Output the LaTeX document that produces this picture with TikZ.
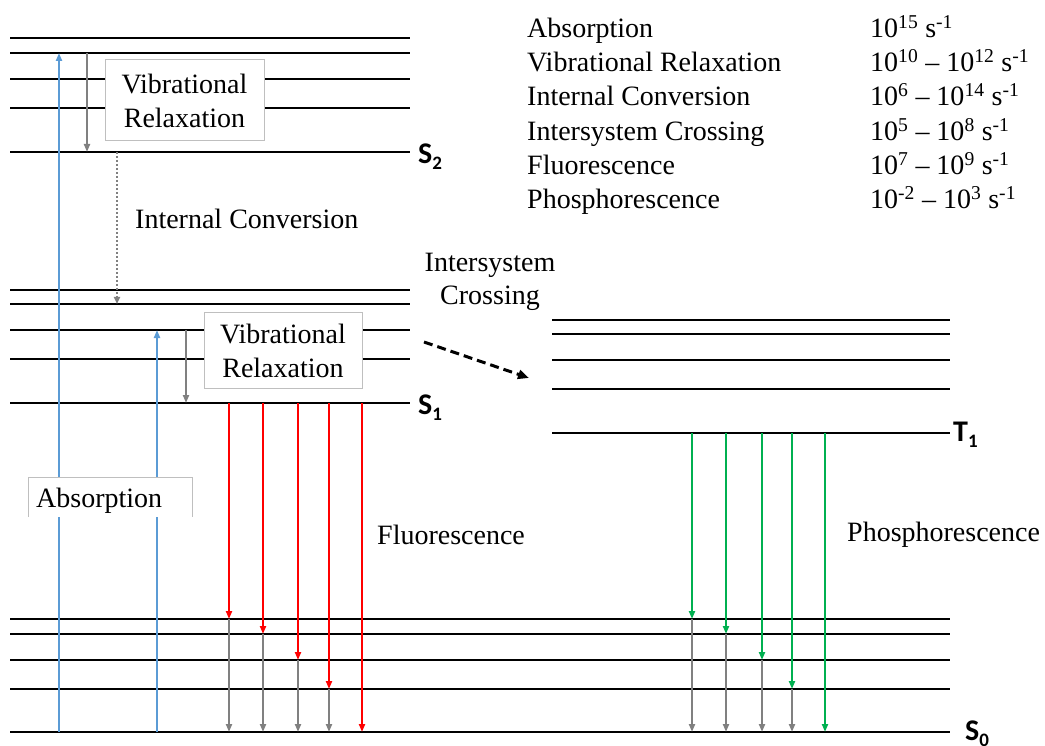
\documentclass[tikz,border=0pt]{standalone}
\usepackage{fontspec}
\setmainfont{Liberation Serif}
\newfontfamily\statefont{Carlito}
\usetikzlibrary{arrows.meta}
\definecolor{absblue}{HTML}{5B9BD5}
\definecolor{fluored}{HTML}{FF0000}
\definecolor{phosgreen}{HTML}{00B050}
\definecolor{relaxgray}{HTML}{808080}
\definecolor{boxgray}{HTML}{BFBFBF}
\newcommand{\statelabel}[2]{{\statefont\bfseries\fontsize{30}{30}\selectfont #1}\raisebox{-6pt}{\statefont\bfseries\fontsize{19}{19}\selectfont #2}}
\begin{document}
\begin{tikzpicture}[x=1pt,y=-1pt,
  level/.style={line width=1.5pt},
  ground/.style={line width=2.5pt},
  tip/.style={-{Triangle[length=8pt,width=6pt]}},
  absorb/.style={tip,draw=absblue,line width=2pt},
  relax/.style={tip,draw=relaxgray,line width=2.5pt},
  fluor/.style={tip,draw=fluored,line width=2pt},
  phos/.style={tip,draw=phosgreen,line width=2pt},
  ic/.style={-{Triangle[length=7pt,width=6pt]},draw=relaxgray,line width=2pt,dotted},
  isc/.style={-{Triangle[length=11pt,width=9pt]},line width=3pt,dash pattern=on 9pt off 5pt},
  txt/.style={font=\fontsize{28}{34}\selectfont,inner sep=0pt},
  vrbox/.style={draw=boxgray,line width=1pt,fill=white,align=center,
    font=\fontsize{28}{34}\selectfont,inner sep=0pt},
  state/.style={inner sep=0pt,anchor=base west}
]
\useasboundingbox (0,0) rectangle (1045,746);

% energy levels: S2
\foreach \y in {38,53,79,108} \draw[level] (10,\y) -- (410,\y);
\draw[ground] (10,152) -- (410,152);
% S1
\foreach \y in {290,304,330,359} \draw[level] (10,\y) -- (410,\y);
\draw[ground] (10,403) -- (410,403);
% T1
\foreach \y in {320,334,360,389} \draw[level] (552,\y) -- (950,\y);
\draw[ground] (552,433) -- (950,433);
% S0
\foreach \y in {619,634,660,689} \draw[level] (10,\y) -- (950,\y);
\draw[ground] (10,732) -- (950,732);

% state labels
\node[state] (s2) at (418,164) {\statelabel{S}{2}};
\node[state] (s1) at (418,414) {\statelabel{S}{1}};
\node[state] (t1) at (953,441) {\statelabel{T}{1}};
\node[state] (s0) at (965,740) {\statelabel{S}{0}};

% absorption
\coordinate (a1) at (59,732);  \coordinate (a1e) at (59,53);
\coordinate (a2) at (157,732); \coordinate (a2e) at (157,330);
\draw[absorb] (a1) -- (a1e);
\draw[absorb] (a2) -- (a2e);

% vibrational relaxation in S2 and S1
\coordinate (v1) at (87,53);   \coordinate (v1e) at (87,152);
\coordinate (v2) at (186,330); \coordinate (v2e) at (186,403);
\draw[relax] (v1) -- (v1e);
\draw[relax] (v2) -- (v2e);

% internal conversion
\coordinate (ic1) at (117,152); \coordinate (ic1e) at (117,304);
\draw[ic] (ic1) -- (ic1e);

% intersystem crossing
\coordinate (isc1) at (424,342); \coordinate (isc1e) at (529,378);
\draw[isc] (isc1) -- (isc1e);

% fluorescence and relaxation to S0
\foreach \x/\y [count=\i] in {229/619,263/634,298/660,329/689}{
  \coordinate (f\i) at (\x,403);
  \coordinate (fm\i) at (\x,\y);
  \coordinate (fg\i) at (\x,732);
  \draw[fluor] (f\i) -- (fm\i);
  \draw[relax] (fm\i) -- (fg\i);
}
\coordinate (f5) at (362,403); \coordinate (fg5) at (362,732);
\draw[fluor] (f5) -- (fg5);

% phosphorescence and relaxation to S0
\foreach \x/\y [count=\i] in {692/619,726/634,762/660,792/689}{
  \coordinate (p\i) at (\x,433);
  \coordinate (pm\i) at (\x,\y);
  \coordinate (pg\i) at (\x,732);
  \draw[phos] (p\i) -- (pm\i);
  \draw[relax] (pm\i) -- (pg\i);
}
\coordinate (p5) at (825,433); \coordinate (pg5) at (825,732);
\draw[phos] (p5) -- (pg5);

% labelled boxes
\node[vrbox,minimum width=159pt,minimum height=81pt] (vr1) at (184.5,100.5) {Vibrational\\Relaxation};
\node[vrbox,minimum width=158pt,minimum height=75pt] (vr2) at (283,350.5) {Vibrational\\Relaxation};
\fill[white] (28,477) rectangle (192,517);
\draw[boxgray,line width=1pt] (28,517) -- (28,477) -- (192,477) -- (192,517);
\node[txt,anchor=base west] (abs) at (36,507) {Absorption};

% process labels
\node[txt,anchor=base west] (iclab) at (135,229) {Internal Conversion};
\node[txt,anchor=base] (isclab1) at (490,272) {Intersystem};
\node[txt,anchor=base] (isclab2) at (490,305) {Crossing};
\node[txt,anchor=base west] (flab) at (377,544) {Fluorescence};
\node[txt,anchor=base west] (plab) at (847,541) {Phosphorescence};

% rate table
\foreach \name/\rate [count=\i] in {
  Absorption/{10\textsuperscript{15} s\textsuperscript{-1}},
  Vibrational Relaxation/{10\textsuperscript{10} -- 10\textsuperscript{12} s\textsuperscript{-1}},
  Internal Conversion/{10\textsuperscript{6} -- 10\textsuperscript{14} s\textsuperscript{-1}},
  Intersystem Crossing/{10\textsuperscript{5} -- 10\textsuperscript{8} s\textsuperscript{-1}},
  Fluorescence/{10\textsuperscript{7} -- 10\textsuperscript{9} s\textsuperscript{-1}},
  Phosphorescence/{10\textsuperscript{-2} -- 10\textsuperscript{3} s\textsuperscript{-1}}}{
  \node[txt,anchor=base west] (proc\i) at (527,{37.5+34.2*(\i-1)}) {\name};
  \node[txt,anchor=base west] (rate\i) at (870,{37.5+34.2*(\i-1)}) {\rate};
}
\end{tikzpicture}
\end{document}
